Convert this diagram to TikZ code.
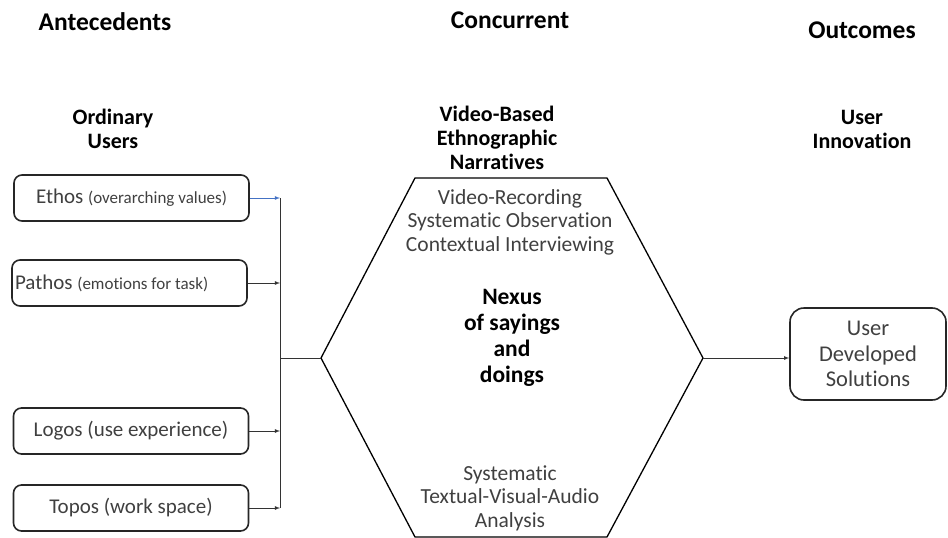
\documentclass[tikz,border=0pt]{standalone}
\usepackage{fontspec}
\setmainfont[Ligatures=NoCommon]{Carlito}
\usetikzlibrary{positioning}
\definecolor{txtgray}{gray}{0.25}
\definecolor{arrowblue}{RGB}{68,114,196}
\newcommand{\paren}[1]{{\fontsize{17}{20}\selectfont #1}}
\begin{document}
\begin{tikzpicture}[x=1pt,y=-1pt,>=latex,
    head/.style={font=\fontsize{25.5}{28}\selectfont\bfseries},
    sub/.style={font=\fontsize{22}{24}\selectfont\bfseries,align=center},
    box/.style={draw=black!85,line width=1.6pt,rounded corners=8pt,
      minimum width=235pt,minimum height=46pt,inner sep=2pt,
      text=txtgray,font=\fontsize{21}{25}\selectfont},
    hextext/.style={align=center,text=txtgray,font=\fontsize{21.5}{23.5}\selectfont},
    conn/.style={->,black!80,line width=0.8pt}]
  \useasboundingbox (0,0) rectangle (948,538);

  % column heads
  \node[head] (ante) at (105,22) {Antecedents};
  \node[head] (conc) at (510,20) {Concurrent};
  \node[head] (outc) at (862,30) {Outcomes};

  \node[sub] (users) at (113,129) {Ordinary\\Users};
  \node[sub] (video) at (497,138) {Video-Based\\Ethnographic\\Narratives};
  \node[sub] (innov) at (862,129) {User\\Innovation};

  % antecedents
  \node[box] (ethos)  at (131.5,198) {Ethos \paren{(overarching values)}};
  \node[box] (pathos) at (129.5,283) {\makebox[229pt][l]{Pathos \paren{(emotions for task)}}};
  \node[box] (logos)  at (131,431) {Logos (use experience)};
  \node[box] (topos)  at (131,508) {Topos (work space)};

  % hexagon
  \coordinate (hexL) at (321,358);
  \coordinate (hexR) at (703,358);
  \draw[line width=1.3pt] (hexL) -- (415,178) -- (607,178) -- (hexR)
    -- (607,537) -- (415,537) -- cycle;
  \node[hextext] (methods) at (510,222) {Video-Recording\\Systematic Observation\\Contextual Interviewing};
  \node[sub,text=black,font=\fontsize{23.5}{26}\selectfont\bfseries] (nexus) at (512,338) {Nexus\\of sayings\\and\\doings};
  \node[hextext] (analysis) at (510,498) {Systematic\\Textual-Visual-Audio\\Analysis};

  % outcome
  \node[box,minimum width=156pt,minimum height=92pt,rounded corners=14pt,
    align=center,font=\fontsize{22.5}{25.5}\selectfont] (sol) at (868,354) {User\\Developed\\Solutions};

  % connectors
  \coordinate (bus) at (280,358);
  \draw[black!80,line width=0.8pt] (bus |- ethos) -- (bus |- topos);
  \draw[->,arrowblue,line width=0.8pt] (ethos) -- (bus |- ethos);
  \draw[conn] (pathos) -- (bus |- pathos);
  \draw[conn] (logos) -- (bus |- logos);
  \draw[conn] (topos) -- (bus |- topos);
  \draw[black!80,line width=0.8pt] (bus) -- (hexL);
  \draw[conn] (hexR) -- (hexR -| sol.west);
\end{tikzpicture}
\end{document}
